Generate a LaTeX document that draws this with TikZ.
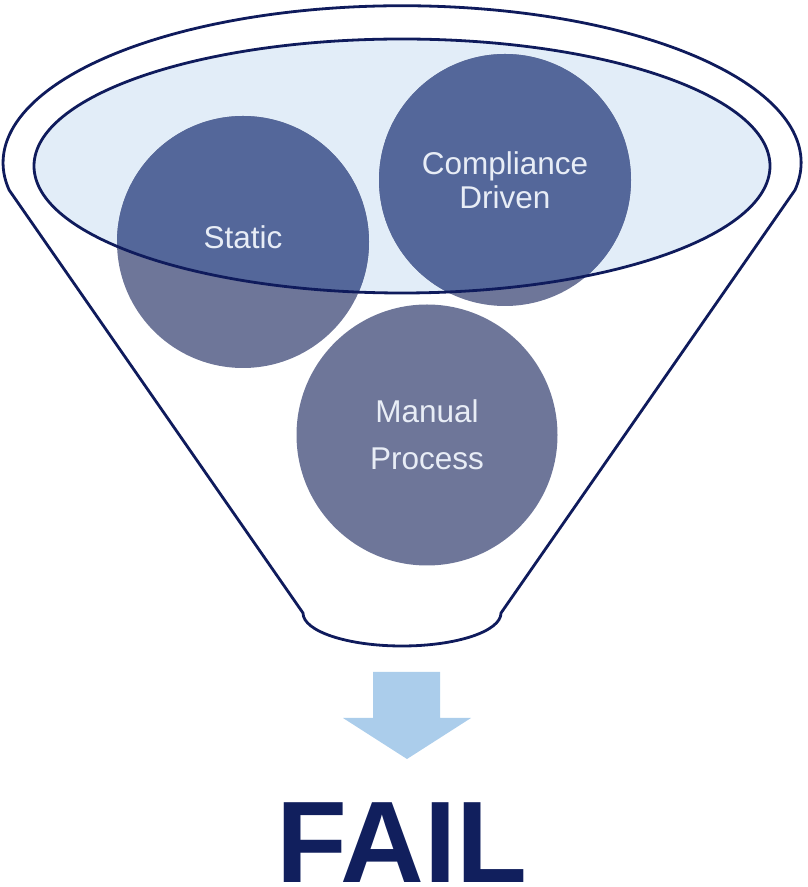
\documentclass[tikz,border=0pt]{standalone}
\usepackage{fontspec}
\setmainfont{Liberation Sans}
\usepackage{xcolor}
\usepackage{tikz}
\usetikzlibrary{positioning}

\definecolor{funnelline}{RGB}{15,27,92}
\definecolor{rimfill}{RGB}{226,237,248}
\definecolor{ballgrey}{RGB}{110,118,153}
\definecolor{ballblue}{RGB}{84,103,154}
\definecolor{balltext}{RGB}{232,237,246}
\definecolor{arrowblue}{RGB}{171,205,235}
\definecolor{failnavy}{RGB}{17,31,93}

\begin{document}
\begin{tikzpicture}[x=1pt,y=1pt,
    ball/.style={circle,inner sep=0pt,fill=ballgrey},
    balllabel/.style={text=balltext,align=center,font=\fontsize{31.5}{34}\selectfont}]
            \useasboundingbox (0,0) rectangle (807,887);

            % funnel body
            \draw [line width=2.8pt, funnelline] (795,697) arc[start angle=-10,end angle=190,x radius=399pt,y radius=157pt]
                -- (303,274) arc[start angle=180,end angle=360,x radius=99pt,y radius=33pt] -- cycle;

            % rim
            \fill [rimfill] (402,721) ellipse [x radius=368pt, y radius=127pt];

            \node [ball, minimum size=252pt] (static) at (243,645) {};
            \node [ball, minimum size=252pt] (compliance) at (505,707) {};
            \node [ball, minimum size=261pt] (manual) at (427,452) {};

            \begin{scope}
                \clip (402,721) ellipse [x radius=368pt, y radius=127pt];
                \fill [ballblue] (static.center) circle [radius=126pt];
                \fill [ballblue] (compliance.center) circle [radius=126pt];
            \end{scope}
            \draw [line width=2.8pt, funnelline] (402,721) ellipse [x radius=368pt, y radius=127pt];

            \node [balllabel, anchor=base] (staticlabel) at (243,638) {Static};
            \node [balllabel] (compliancelabel) at (compliance.center) {Compliance\\Driven};
            \node [balllabel, font=\fontsize{31.5}{47}\selectfont] (manuallabel) at (manual.center) {Manual\\Process};

            % outlet arrow
            \fill [arrowblue] (373,215) -- (440,215) -- (440,169) -- (471,169) -- (407,128) -- (343,169) -- (373,169) -- cycle;

            \node [font=\fontsize{116}{116}\selectfont\bfseries, text=failnavy, anchor=base, inner sep=0pt] (fail) at (402,5) {FAIL};
        \end{tikzpicture}
\end{document}
